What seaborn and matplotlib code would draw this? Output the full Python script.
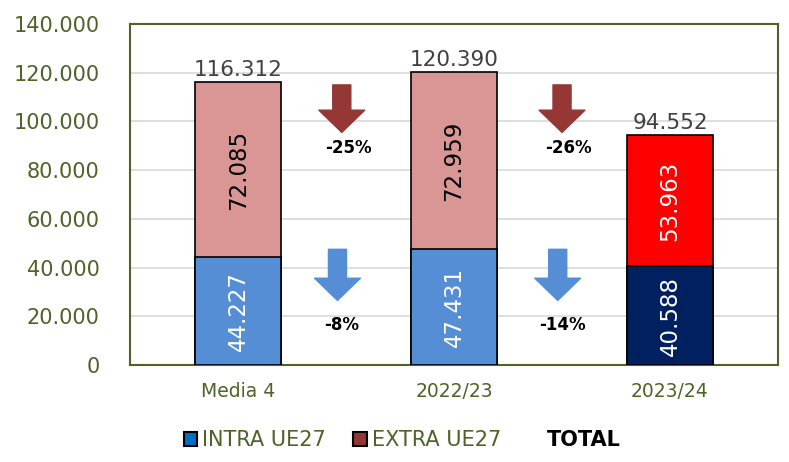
import numpy as np
import pandas as pd
import matplotlib
matplotlib.use("Agg")
import matplotlib.pyplot as plt
from matplotlib.patches import Patch
import seaborn as sns

# ------------ Data ------------
periods = ["Media 4", "2022/23", "2023/24"]
intra_ue27 = [44227, 47431, 40588]
extra_ue27 = [72085, 72959, 53963]
totals = [116312, 120390, 94552]  # as printed on the chart

intra_colors = ["#558ED5", "#558ED5", "#002060"]
extra_colors = ["#D99694", "#D99694", "#FF0000"]
intra_text = ["white", "white", "white"]
extra_text = ["black", "black", "white"]

OLIVE = "#4F6228"


def fmt(v):
    return f"{v:,.0f}".replace(",", ".")


df = pd.DataFrame({"period": periods, "intra": intra_ue27, "extra": extra_ue27})
df["stack"] = df["intra"] + df["extra"]

sns.set_style("white")
plt.rcParams["font.family"] = ["DejaVu Sans"]

fig = plt.figure(figsize=(7.89, 4.62), dpi=100)
ax = fig.add_axes([0.165, 0.21, 0.821, 0.738])

# full stacked height (coloured as the EXTRA part), then INTRA drawn over it
sns.barplot(data=df, x="period", y="stack", hue="period", palette=extra_colors,
            saturation=1, width=0.4, edgecolor="black", linewidth=1.2,
            legend=False, ax=ax, zorder=3)
sns.barplot(data=df, x="period", y="intra", hue="period", palette=intra_colors,
            saturation=1, width=0.4, edgecolor="black", linewidth=1.2,
            legend=False, ax=ax, zorder=4)

ax.set_ylim(0, 140000)
ax.set_xlim(-0.5, 2.5)
yt = np.arange(0, 140001, 20000)
ax.set_yticks(yt)
ax.set_yticklabels([fmt(v) for v in yt], fontsize=15, color=OLIVE)
ax.tick_params(axis="x", labelsize=13.5, labelcolor=OLIVE, length=0, pad=12)
ax.tick_params(axis="y", length=0, pad=22)
ax.set_xlabel("")
ax.set_ylabel("")
ax.yaxis.grid(True, color="#D9D9D9", linewidth=1.2, zorder=0)
ax.set_axisbelow(True)
for sp in ax.spines.values():
    sp.set_color(OLIVE)
    sp.set_linewidth(1.5)

# value labels
for i in range(len(periods)):
    ax.text(i, intra_ue27[i] / 2, fmt(intra_ue27[i]), rotation=90, ha="center",
            va="center", fontsize=16.5, color=intra_text[i], zorder=6)
    ax.text(i, intra_ue27[i] + extra_ue27[i] / 2, fmt(extra_ue27[i]), rotation=90,
            ha="center", va="center", fontsize=16.5, color=extra_text[i], zorder=6)
    ax.text(i, df["stack"][i] + 800, fmt(totals[i]), ha="center", va="bottom",
            fontsize=15.5, color="#404040", zorder=6)

# change arrows between periods (2023/24 vs each previous period)
arrow_style = "simple,head_length=0.8,head_width=1.65,tail_width=0.65"
for j, xpos in enumerate([0.48, 1.5]):
    ch_extra = extra_ue27[2] / extra_ue27[j] - 1
    ch_intra = intra_ue27[2] / intra_ue27[j] - 1
    ax.annotate("", xy=(xpos, 95500), xytext=(xpos, 115000),
                arrowprops=dict(arrowstyle=arrow_style, mutation_scale=20,
                                fc="#953735", ec="#953735", shrinkA=0, shrinkB=0),
                zorder=5)
    ax.annotate("", xy=(xpos - 0.02, 26500), xytext=(xpos - 0.02, 47500),
                arrowprops=dict(arrowstyle=arrow_style, mutation_scale=20,
                                fc="#558ED5", ec="#558ED5", shrinkA=0, shrinkB=0),
                zorder=5)
    ax.text(xpos + 0.03, 89000, f"{ch_extra:.0%}", ha="center", va="center",
            fontsize=12, fontweight="bold", color="black")
    ax.text(xpos + 0.0, 16500, f"{ch_intra:.0%}", ha="center", va="center",
            fontsize=12, fontweight="bold", color="black")

handles = [Patch(facecolor="#0070C0", edgecolor="black", linewidth=1.5),
           Patch(facecolor="#943634", edgecolor="black", linewidth=1.5),
           Patch(visible=False)]
leg = fig.legend(handles, ["INTRA UE27", "EXTRA UE27", "TOTAL"], ncol=3,
                 loc="lower center", bbox_to_anchor=(0.51, -0.015), frameon=False,
                 fontsize=15, handlelength=0.65, handleheight=0.65,
                 handletextpad=0.25, columnspacing=1.3)
texts = leg.get_texts()
texts[0].set_color(OLIVE)
texts[1].set_color(OLIVE)
texts[2].set_color("black")
texts[2].set_fontweight("bold")

fig.savefig("out.png", dpi=100)
